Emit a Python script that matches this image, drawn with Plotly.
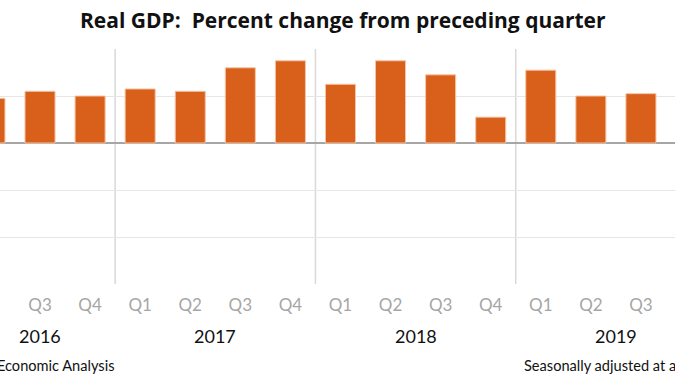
import plotly.graph_objects as go

# ---- data ----
quarters = ["Q2", "Q3", "Q4",
            "Q1", "Q2", "Q3", "Q4",
            "Q1", "Q2", "Q3", "Q4",
            "Q1", "Q2", "Q3"]
years = ["2016", "2016", "2016",
         "2017", "2017", "2017", "2017",
         "2018", "2018", "2018", "2018",
         "2019", "2019", "2019"]
gdp_change = [1.9, 2.2, 2.0,
              2.3, 2.2, 3.2, 3.5,
              2.5, 3.5, 2.9, 1.1,
              3.1, 2.0, 2.1]
year_labels = ["2016", "2017", "2018", "2019"]
# quarters each year spans on the full (cropped) axis; 2019 runs on to Q4 off the right edge
year_quarter_count = {"2016": 3, "2017": 4, "2018": 4, "2019": 4}

title_text = "Real GDP:\u00a0 Percent change from preceding quarter"
source_text = "U.S. Bureau of Economic Analysis"
note_text = "Seasonally adjusted at annual rates"

BAR = "#D9601B"
FONT = "Lato"

idx = list(range(len(quarters)))

fig = go.Figure()
fig.add_trace(go.Bar(
    x=idx, y=gdp_change, width=0.6,
    marker=dict(color=BAR, line=dict(color="#F6C4A4", width=1)),
    hoverinfo="skip", showlegend=False,
))

# year group positions
starts = {}
for i, yr in enumerate(years):
    starts.setdefault(yr, i)
annotations = []
for yr in year_labels:
    s = starts[yr]
    center = s + (year_quarter_count[yr] - 1) / 2
    annotations.append(dict(
        x=center, xref="x", y=-0.222, yref="paper", yanchor="middle",
        text=yr, showarrow=False, font=dict(family=FONT, size=18, color="#111111")))

shapes = []
for yr in year_labels[1:]:
    b = starts[yr] - 0.5
    shapes.append(dict(type="line", xref="x", yref="y", x0=b, x1=b, y0=-6, y1=4,
                       line=dict(color="#D9D9D9", width=1.5), layer="below"))

annotations.append(dict(x=117 / 675, xref="paper", xanchor="right", y=-0.345, yref="paper",
                        yanchor="middle", text=source_text, showarrow=False,
                        font=dict(family=FONT, size=14.6, color="#111111")))
annotations.append(dict(x=522 / 675, xref="paper", xanchor="left", y=-0.345, yref="paper",
                        yanchor="middle", text=note_text, showarrow=False,
                        font=dict(family=FONT, size=14.6, color="#111111")))
annotations.append(dict(x=343 / 675, xref="paper", xanchor="center", y=1 + 29 / 235, yref="paper",
                        yanchor="middle", text="<b>" + title_text + "</b>", showarrow=False,
                        font=dict(family="Open Sans", size=21, color="#111111")))

fig.update_layout(
    width=675, height=380,
    margin=dict(l=0, r=0, t=49, b=96, pad=0),
    paper_bgcolor="white", plot_bgcolor="white",
    template="none",
    annotations=annotations, shapes=shapes,
    bargap=0.4,
    xaxis=dict(range=[0.201, 13.68], tickmode="array", tickvals=idx, ticktext=quarters,
               showgrid=False, zeroline=False, showline=False,
               ticks="outside", ticklen=6, tickcolor="rgba(0,0,0,0)",
               tickfont=dict(family=FONT, size=17, color="#A6A6A6"), automargin=False),
    yaxis=dict(range=[-6, 4], tick0=0, dtick=2, showticklabels=False,
               showgrid=True, gridcolor="#E6E6E6", gridwidth=1,
               zeroline=True, zerolinecolor="#A6A6A6", zerolinewidth=1.5,
               showline=False, ticks="", automargin=False),
)

fig.write_html("out.html", config={"displayModeBar": False},
               post_script="document.body.style.margin='0';document.body.style.overflow='hidden';")
